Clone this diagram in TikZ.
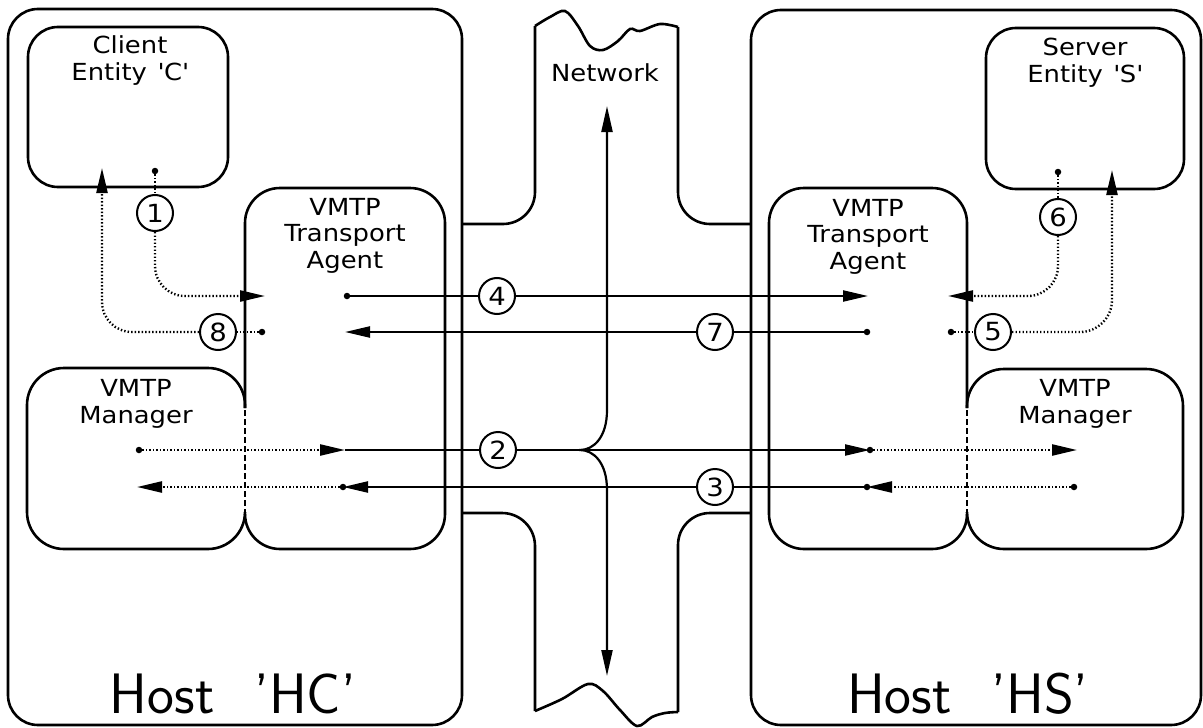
\documentclass[tikz,border=0pt]{standalone}
\usepackage{fontspec}
\usetikzlibrary{arrows.meta}
\newfontfamily\lblfont[FakeStretch=1.1]{DejaVu Sans}
\begin{document}
\begin{tikzpicture}[x=1pt,y=-1pt,
  frame/.style={line width=2.6pt},
  solidline/.style={line width=2.2pt},
  dotline/.style={line width=2.4pt, dash pattern=on 1.4pt off 2.1pt},
  tip/.style={-{Triangle[length=25pt,width=11pt]}},
  dotnode/.style={circle, fill, inner sep=0pt, minimum size=6.5pt},
  num/.style={circle, draw, line width=2pt, minimum size=36pt, inner sep=0pt,
    font=\lblfont\fontsize{25}{25}\selectfont},
  lbl/.style={font=\lblfont\fontsize{23.5}{26.5}\selectfont, align=center, anchor=base, inner sep=0pt},
  hostlbl/.style={font=\sffamily\fontsize{57}{57}\selectfont, anchor=base, inner sep=0pt}
]
\useasboundingbox (0,0) rectangle (1203,728);

% hosts
\draw[frame, rounded corners=30pt] (8,9) rectangle (462,725);
\draw[frame, rounded corners=30pt] (751,10) rectangle (1201,725);

% entities
\draw[frame, rounded corners=30pt] (28,27) rectangle (228,187);
\draw[frame, rounded corners=30pt] (986,28) rectangle (1184,189);

% left agent and manager
\draw[frame, rounded corners=35pt] (245,408) -- (245,188) -- (445,188) -- (445,549) -- (245,549) -- (245,514);
\draw[frame, rounded corners=37pt] (245,408) -- (245,368) -- (27,368) -- (27,549) -- (245,549) -- (245,512);
\draw[frame, dash pattern=on 6pt off 3pt] (245,410) -- (245,512);

% right agent and manager
\draw[frame, rounded corners=35pt] (967,408) -- (967,188) -- (769,188) -- (769,549) -- (967,549) -- (967,514);
\draw[frame, rounded corners=37pt] (967,408) -- (967,369) -- (1183,369) -- (1183,549) -- (967,549) -- (967,512);
\draw[frame, dash pattern=on 6pt off 3pt] (967,410) -- (967,512);

% network outline
\draw[frame, rounded corners=32pt] (462,224) -- (535,224) -- (535,26);
\draw[frame] plot[smooth, tension=0.55] coordinates {(535,26) (550,17) (565,11) (578,26) (590,46) (603,50) (618,41) (630,29) (640,31) (660,24) (678,27)};
\draw[frame, rounded corners=32pt] (678,27) -- (678,224) -- (751,224);
\draw[frame, rounded corners=33pt] (462,513) -- (535,513) -- (535,711);
\draw[frame] plot[smooth, tension=0.55] coordinates {(535,711) (562,699) (588,684) (603,691) (620,710) (637,726) (652,717) (665,713) (678,712)};
\draw[frame, rounded corners=32pt] (678,712) -- (678,513) -- (751,513);

% labels (anchor at baseline of last line)
\node[lbl] (client) at (130,80) {Client\\Entity\hspace{0.45em}\textquotesingle C\textquotesingle};
\node[lbl] (server) at (1085,82) {Server\\Entity\hspace{0.45em}\textquotesingle S\textquotesingle};
\node[lbl] (lagent) at (345,268) {VMTP\\Transport\\Agent};
\node[lbl] (ragent) at (868,269) {VMTP\\Transport\\Agent};
\node[lbl] (lman) at (136,423) {VMTP\\Manager};
\node[lbl] (rman) at (1075,423) {VMTP\\Manager};
\node[lbl] (net) at (605,81) {Network};
\node[hostlbl] (hc) at (233,713) {Host\hspace{0.7em}'HC'};
\node[hostlbl] (hs) at (968,713) {Host\hspace{0.7em}'HS'};

% network vertical double arrow
\coordinate (nt) at (607,106);
\coordinate (nb) at (607,676);
\draw[solidline, {Triangle[length=26pt,width=11pt]}-{Triangle[length=26pt,width=11pt]}]
  (nt) -- (607,410) .. controls (607,438) and (593,450) .. (580,450)
  .. controls (593,450) and (607,462) .. (607,490) -- (nb);

% numbered circles
\node[num] (c1) at (155,213) {1};
\node[num] (c8) at (218,332) {8};
\node[num] (c4) at (497,296) {4};
\node[num] (c7) at (715,332) {7};
\node[num] (c2) at (498,450) {2};
\node[num] (c3) at (715,487) {3};
\node[num] (c6) at (1058,217) {6};
\node[num] (c5) at (993,332) {5};

% dots
\node[dotnode] (d1) at (155,171) {};
\node[dotnode] (d8) at (262,332) {};
\node[dotnode] (d6) at (1058,172) {};
\node[dotnode] (d5) at (951,332) {};
\node[dotnode] (d4) at (347,296) {};
\node[dotnode] (d7) at (867,332) {};
\node[dotnode] (d2a) at (139,450) {};
\node[dotnode] (d2b) at (870,450) {};
\node[dotnode] (d3a) at (1074,487) {};
\node[dotnode] (d3b) at (867,487) {};
\node[dotnode] (d3c) at (343,487) {};

% tip coordinates
\coordinate (t1) at (265,296);
\coordinate (t8) at (102,168);
\coordinate (t6) at (948,296);
\coordinate (t5) at (1112,170);
\coordinate (t4) at (868,296);
\coordinate (t7) at (345,332);
\coordinate (t2a) at (345,450);
\coordinate (t2b) at (1077,450);
\coordinate (t3) at (137,487);

% step 1
\draw[dotline] (d1) -- (c1);
\draw[dotline, rounded corners=30pt, tip] (c1.south) |- (t1);
% step 8
\draw[dotline] (d8) -- (c8);
\draw[dotline, rounded corners=30pt, tip] (c8.west) -| (t8);
% step 6
\draw[dotline] (d6) -- (c6);
\draw[dotline, rounded corners=30pt, tip] (c6.south) |- (t6);
% step 5
\draw[dotline] (d5) -- (c5);
\draw[dotline, rounded corners=32pt, tip] (c5.east) -| (t5);
% step 4
\draw[solidline] (d4) -- (c4);
\draw[solidline, tip] (c4) -- (t4);
% step 7
\draw[solidline] (d7) -- (c7);
\draw[solidline, tip] (c7) -- (t7);
% step 2
\draw[dotline, tip] (d2a) -- (t2a);
\draw[solidline] (t2a) -- (c2);
\draw[solidline, tip] (c2) -- (d2b.center);
\draw[dotline, tip] (d2b) -- (t2b);
% step 3
\draw[dotline, tip] (d3a) -- (d3b.center);
\draw[solidline] (d3b) -- (c3);
\draw[solidline, tip] (c3) -- (d3c.center);
\draw[dotline, tip] (d3c) -- (t3);
\end{tikzpicture}
\end{document}
